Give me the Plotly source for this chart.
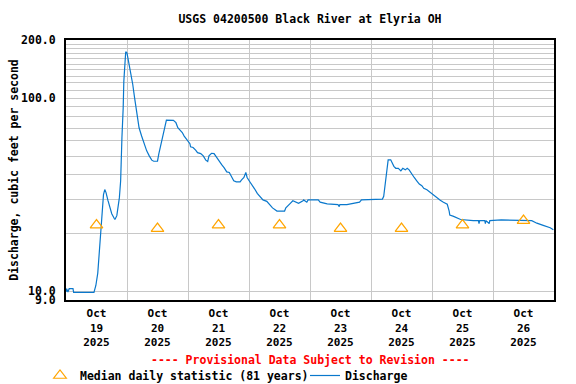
import plotly.graph_objects as go

# ---- Data ----
discharge_times = [
    "2025-10-19 00:00", "2025-10-19 00:15", "2025-10-19 00:45", "2025-10-19 01:15", "2025-10-19 02:45",
    "2025-10-19 03:00", "2025-10-19 11:00", "2025-10-19 11:45", "2025-10-19 12:30", "2025-10-19 13:00",
    "2025-10-19 13:30", "2025-10-19 14:00", "2025-10-19 14:15", "2025-10-19 14:45", "2025-10-19 15:15",
    "2025-10-19 15:45", "2025-10-19 16:30", "2025-10-19 17:15", "2025-10-19 18:00", "2025-10-19 19:00",
    "2025-10-19 19:15", "2025-10-19 20:00", "2025-10-19 20:30", "2025-10-19 21:00", "2025-10-19 21:30",
    "2025-10-19 21:45", "2025-10-19 22:00", "2025-10-19 22:30", "2025-10-19 22:45", "2025-10-19 23:15",
    "2025-10-19 23:30", "2025-10-20 00:00", "2025-10-20 00:30", "2025-10-20 01:15", "2025-10-20 01:45",
    "2025-10-20 02:15", "2025-10-20 03:00", "2025-10-20 04:00", "2025-10-20 04:45", "2025-10-20 05:45",
    "2025-10-20 06:45", "2025-10-20 07:45", "2025-10-20 08:45", "2025-10-20 09:45", "2025-10-20 10:30",
    "2025-10-20 12:00", "2025-10-20 12:30", "2025-10-20 13:15", "2025-10-20 14:15", "2025-10-20 15:00",
    "2025-10-20 15:30", "2025-10-20 18:15", "2025-10-20 19:15", "2025-10-20 20:00", "2025-10-20 20:45",
    "2025-10-20 21:45", "2025-10-20 22:30", "2025-10-20 23:45", "2025-10-21 00:45", "2025-10-21 01:00",
    "2025-10-21 02:00", "2025-10-21 03:00", "2025-10-21 03:45", "2025-10-21 05:00", "2025-10-21 06:00",
    "2025-10-21 07:00", "2025-10-21 07:45", "2025-10-21 08:15", "2025-10-21 09:15", "2025-10-21 10:15",
    "2025-10-21 11:15", "2025-10-21 12:15", "2025-10-21 13:15", "2025-10-21 14:15", "2025-10-21 15:15",
    "2025-10-21 16:15", "2025-10-21 17:15", "2025-10-21 18:00", "2025-10-21 19:00", "2025-10-21 20:30",
    "2025-10-21 21:00", "2025-10-21 22:00", "2025-10-21 22:45", "2025-10-21 23:15", "2025-10-22 00:15",
    "2025-10-22 01:30", "2025-10-22 02:15", "2025-10-22 03:15", "2025-10-22 04:15", "2025-10-22 05:30",
    "2025-10-22 07:00", "2025-10-22 08:15", "2025-10-22 09:15", "2025-10-22 11:00", "2025-10-22 14:00",
    "2025-10-22 14:30", "2025-10-22 15:30", "2025-10-22 16:15", "2025-10-22 17:15", "2025-10-22 18:45",
    "2025-10-22 19:30", "2025-10-22 21:15", "2025-10-22 21:30", "2025-10-22 22:45", "2025-10-22 23:15",
    "2025-10-23 03:15", "2025-10-23 04:00", "2025-10-23 06:45", "2025-10-23 11:00", "2025-10-23 11:30",
    "2025-10-23 11:45", "2025-10-23 14:30", "2025-10-23 17:45", "2025-10-23 19:30", "2025-10-23 20:15",
    "2025-10-24 04:30", "2025-10-24 05:00", "2025-10-24 05:45", "2025-10-24 06:30", "2025-10-24 06:45",
    "2025-10-24 07:45", "2025-10-24 08:15", "2025-10-24 09:00", "2025-10-24 09:45", "2025-10-24 10:45",
    "2025-10-24 11:45", "2025-10-24 12:30", "2025-10-24 13:30", "2025-10-24 14:15", "2025-10-24 15:00",
    "2025-10-24 16:00", "2025-10-24 17:00", "2025-10-24 18:00", "2025-10-24 19:00", "2025-10-24 20:00",
    "2025-10-24 20:45", "2025-10-24 22:00", "2025-10-24 23:00", "2025-10-25 00:15", "2025-10-25 01:30",
    "2025-10-25 03:15", "2025-10-25 04:30", "2025-10-25 06:00", "2025-10-25 06:45", "2025-10-25 07:00",
    "2025-10-25 08:30", "2025-10-25 09:45", "2025-10-25 11:15", "2025-10-25 16:15", "2025-10-25 18:15",
    "2025-10-25 18:30", "2025-10-25 18:45", "2025-10-25 20:45", "2025-10-25 21:00", "2025-10-25 21:15",
    "2025-10-25 22:30", "2025-10-25 22:45", "2025-10-26 03:15", "2025-10-26 15:15", "2025-10-26 17:15",
    "2025-10-26 19:45", "2025-10-26 22:30", "2025-10-26 23:45",
]
discharge_values = [
    9.9, 10.3, 9.9, 10.3, 10.3,
    9.85, 9.85, 10.7, 12.4, 15.7,
    18.7, 22.7, 27.7, 31.6, 33.6,
    32.4, 29.5, 27.1, 25.2, 23.8,
    23.5, 24.6, 27.1, 30.5, 37.3,
    51.5, 62.2, 89.0, 122.0, 155.0,
    174.0, 171.0, 158.0, 143.0, 133.0,
    118.0, 100.0, 84.0, 70.2, 63.6,
    57.6, 53.3, 50.2, 47.7, 47.1,
    47.1, 51.2, 56.5, 65.0, 71.7,
    77.0, 76.7, 74.6, 70.2, 68.5,
    66.3, 63.6, 60.6, 58.1, 55.9,
    55.5, 53.8, 52.2, 51.6, 50.2,
    47.7, 46.9, 50.2, 51.8, 51.6,
    49.2, 46.9, 45.2, 43.5, 41.5,
    41.2, 39.2, 37.3, 36.8, 36.8,
    37.6, 38.8, 41.2, 38.8, 37.0,
    35.2, 33.8, 32.1, 30.9, 29.7,
    29.2, 28.1, 27.0, 26.0, 26.0,
    27.0, 27.7, 28.5, 29.4, 28.9,
    28.5, 29.4, 29.7, 28.9, 29.7,
    29.7, 28.9, 28.3, 28.1, 27.4,
    28.1, 28.1, 28.5, 28.9, 29.7,
    30.0, 31.0, 36.5, 44.6, 47.9,
    47.9, 46.0, 44.3, 43.3, 43.3,
    42.0, 43.3, 42.5, 43.3, 42.5,
    40.4, 38.8, 37.3, 35.9, 35.2,
    34.1, 33.5, 32.7, 31.5, 30.6,
    29.6, 28.9, 28.2, 26.0, 24.8,
    24.4, 24.0, 23.5, 23.2, 23.2,
    22.4, 23.2, 23.2, 22.4, 23.2,
    22.4, 23.2, 23.4, 23.2, 22.5,
    21.9, 21.3, 20.8,
]

median_days = ["2025-10-19 12:00", "2025-10-20 12:00", "2025-10-21 12:00", "2025-10-22 12:00",
               "2025-10-23 12:00", "2025-10-24 12:00", "2025-10-25 12:00", "2025-10-26 12:00"]
median_values = [22.0, 21.1, 22.0, 22.0, 21.1, 21.1, 22.0, 23.2]

tick_dates = median_days
tick_labels = ["Oct<br>19<br>2025", "Oct<br>20<br>2025", "Oct<br>21<br>2025", "Oct<br>22<br>2025",
               "Oct<br>23<br>2025", "Oct<br>24<br>2025", "Oct<br>25<br>2025", "Oct<br>26<br>2025"]
midnights = ["2025-10-20", "2025-10-21", "2025-10-22", "2025-10-23",
             "2025-10-24", "2025-10-25", "2025-10-26"]
y_tick_vals = [9, 10, 100, 200]
y_tick_text = ["9.0", "10.0", "100.0", "200.0"]
y_grid_vals = [10, 20, 30, 40, 50, 60, 70, 80, 90, 100, 110, 120, 130, 140, 150,
               160, 170, 180, 190, 200]

FONT = "DejaVu Sans Mono"
L, R, T, B = 66, 22, 40, 84
PW, PH = 576 - L - R, 384 - T - B

fig = go.Figure()
fig.add_trace(go.Scatter(
    x=discharge_times, y=discharge_values, mode="lines", name="Discharge",
    line=dict(color="#0A78CC", width=1.2), legend="legend2",
))
fig.add_trace(go.Scatter(
    x=median_days, y=median_values, mode="markers",
    name="Median daily statistic (81 years)",
    marker=dict(symbol="triangle-up-open", size=11, color="#FFA500",
                line=dict(width=1.2, color="#FFA500")),
    legend="legend",
))

legend_common = dict(orientation="h", xanchor="left", yanchor="top",
                     font=dict(family=FONT, size=11.5, weight="bold"),
                     bgcolor="rgba(0,0,0,0)", itemwidth=30)

fig.update_layout(
    width=576, height=384,
    margin=dict(l=L, r=R, t=T, b=B, autoexpand=False),
    paper_bgcolor="white", plot_bgcolor="white",
    font=dict(family=FONT, size=11.5, color="black", weight="bold"),
    title=dict(text="USGS 04200500 Black River at Elyria OH",
               x=(310) / 576, xanchor="center", y=1 - 19 / 384, yanchor="middle",
               font=dict(family=FONT, size=11.5, color="black", weight="bold")),
    showlegend=True,
    legend=dict(x=(40 - L) / PW, y=(300 - 361) / PH, **legend_common),
    legend2=dict(x=(305 - L) / PW, y=(300 - 361) / PH, **legend_common),
    xaxis=dict(
        range=["2025-10-19 00:00", "2025-10-27 00:00"],
        tickmode="array", tickvals=tick_dates, ticktext=tick_labels,
        showgrid=False, ticks="", showline=True, linecolor="black", linewidth=2, mirror=True,
        tickfont=dict(family=FONT, size=11, weight="bold"), automargin=False,
        ticklabelstandoff=2,
        minor=dict(tickmode="array", tickvals=midnights, showgrid=True,
                   gridcolor="#C8C8C8", gridwidth=1, ticks=""),
        zeroline=False,
    ),
    yaxis=dict(
        type="log", range=[0.9542, 2.30103],
        tickmode="array", tickvals=y_tick_vals, ticktext=y_tick_text,
        showgrid=False, ticks="", ticklabelstandoff=6, automargin=False,
        showline=True, linecolor="black", linewidth=2, mirror=True,
        tickfont=dict(family=FONT, size=11.5, weight="bold"),
        minor=dict(tickmode="array", tickvals=y_grid_vals, showgrid=True,
                   gridcolor="#C8C8C8", gridwidth=1, ticks=""),
        title=dict(text="Discharge, cubic feet per second", standoff=0,
                   font=dict(family=FONT, size=11.5, weight="bold")),
        zeroline=False,
    ),
)

fig.add_annotation(
    text="---- Provisional Data Subject to Revision ----",
    xref="paper", yref="paper", x=0.5, y=(300 - 360) / PH,
    xanchor="center", yanchor="middle", showarrow=False,
    font=dict(family=FONT, size=11.5, color="#FF0000", weight="bold"),
)

fig.write_html("out.html", config={"displayModeBar": False},
               post_script="document.body.style.margin='0';")
